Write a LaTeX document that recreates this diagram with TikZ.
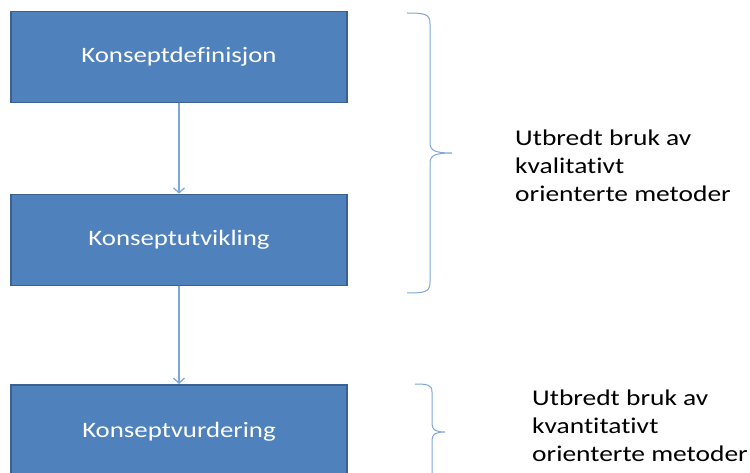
\documentclass[tikz,border=0pt]{standalone}
\usepackage{fontspec}
\setmainfont{Carlito}[FakeStretch=1.22, Ligatures={NoCommon}]
\usetikzlibrary{arrows.meta}
\definecolor{boxfill}{HTML}{4F81BD}
\definecolor{boxline}{HTML}{3A6191}
\definecolor{linkblue}{HTML}{7EA6DB}
\tikzset{
  fase/.style={draw=boxline, line width=1.6pt, fill=boxfill, text=white,
    minimum width=336pt, minimum height=91pt, inner sep=0pt,
    font=\fontsize{22}{26}\selectfont},
  merknad/.style={anchor=north west, align=left, inner sep=0pt,
    font=\fontsize{22.5}{28}\selectfont},
  klamme/.style={draw=linkblue, line width=1pt}
}
\begin{document}
\begin{tikzpicture}[x=1pt,y=-1pt,>={Straight Barb[length=5pt,width=11pt]}]

\useasboundingbox (0,0) rectangle (750,473);
\clip (0,0) rectangle (750,473);

% --- Faser ---
\node[fase] (def)  at (179,57)  {Konseptdefinisjon};
\node[fase] (utv)  at (179,240) {Konseptutvikling};
\node[fase, minimum height=100pt, anchor=north] (vurd) at (179,384) {};
\node[text=white, font=\fontsize{22}{26}\selectfont] (vurdtekst) at (179,432) {Konseptvurdering};

% --- Piler ---
\draw[->, linkblue, line width=1.3pt] (def.south) -- (utv.north);
\draw[->, linkblue, line width=1.3pt] (utv.south) -- (vurd.north);

% --- Klammer ---
\draw[klamme] (407,13) .. controls (425,13) and (430,14) .. (430,24)
  -- (430,143) .. controls (430,151) and (436,153) .. (452,153)
  .. controls (436,153) and (430,155) .. (430,163)
  -- (430,282) .. controls (430,292) and (425,293) .. (407,293);
\draw[klamme] (415,384) .. controls (428,384) and (432,385) .. (432,392)
  -- (432,424) .. controls (432,430) and (436,432) .. (445,432)
  .. controls (436,432) and (432,434) .. (432,440)
  -- (432,480);

% --- Merknader ---
\node[merknad] (kval) at (515,130) {Utbredt bruk av\\kvalitativt\\orienterte metoder};
\node[merknad] (kvant) at (532,390) {Utbredt bruk av\\kvantitativt\\orienterte metoder};

\end{tikzpicture}
\end{document}
